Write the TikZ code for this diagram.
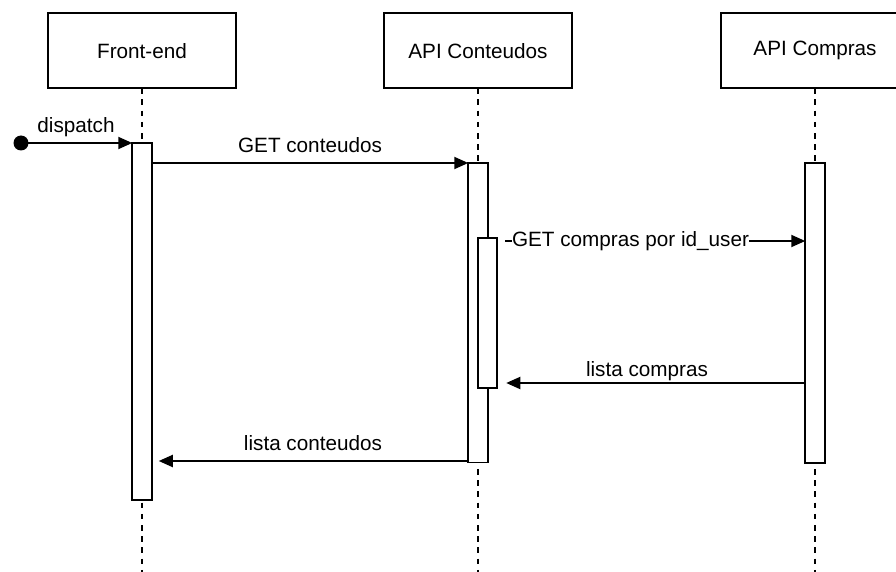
\documentclass[tikz,border=0pt]{standalone}
\usepackage{fontspec}
\setmainfont{Liberation Sans}
\usetikzlibrary{arrows.meta}
\begin{document}
\begin{tikzpicture}[x=1pt,y=-1pt,
  every node/.style={font=\fontsize{20.7}{24}\selectfont, inner sep=0pt, outer sep=0pt},
  head/.style={draw, line width=1.9pt, fill=white, minimum width=188pt, minimum height=75pt},
  actbar/.style={draw, line width=1.9pt, fill=white, minimum width=19.5pt},
  lifeline/.style={line width=1.9pt, dash pattern=on 5.6pt off 5.6pt},
  msg/.style={line width=1.9pt, -{Triangle[length=14pt,width=12pt]}},
  msglabel/.style={anchor=base}]
\useasboundingbox (0,0) rectangle (896,572);
\clip (0,0) rectangle (896,572);

% participants
\node[head] (fe) at (142,50.75) {Front-end};
\node[head] (ac) at (478,50.75) {API Conteudos};
\node[head] (ap) at (815,50.75) {API Compras};

% lifelines
\coordinate (bottom) at (0,572);
\draw[lifeline] (fe.south) -- (fe.south |- bottom);
\draw[lifeline] (ac.south) -- (ac.south |- bottom);
\draw[lifeline] (ap.south) -- (ap.south |- bottom);

% activation bars
\node[actbar, minimum height=357pt]   (fbar) at (142,321.5) {};
\node[actbar, minimum height=299.5pt] (cbar) at (478,312.75) {};
\node[actbar, minimum height=149.4pt] (nbar) at (487.5,313) {};
\node[actbar, minimum height=299.7pt] (kbar) at (815,312.85) {};

% found message
\coordinate (start) at (21,143);
\fill (start) circle (7.5pt);
\draw[msg] (start) -- (fbar.north west);
\node[msglabel] (l0) at (76,133) {dispatch};

% messages
\draw[msg] (fbar.east |- cbar.north) -- (cbar.north west);
\node[msglabel] (l1) at (310,153) {GET conteudos};

\coordinate (y2) at (0,241);
\draw[msg, shorten <=8pt] (nbar.east |- y2) -- (kbar.west |- y2);
\node[fill=white] (l2) at (630.5,241) {GET compras por id\_user};

\coordinate (y3) at (0,383);
\draw[msg, shorten >=9pt] (kbar.west |- y3) -- (nbar.east |- y3);
\node[msglabel] (l3) at (647,376.5) {lista compras};

\coordinate (y4) at (0,461);
\draw[msg, shorten >=7pt] (cbar.west |- y4) -- (fbar.east |- y4);
\node[msglabel] (l4) at (313,450.7) {lista conteudos};
\end{tikzpicture}
\end{document}
